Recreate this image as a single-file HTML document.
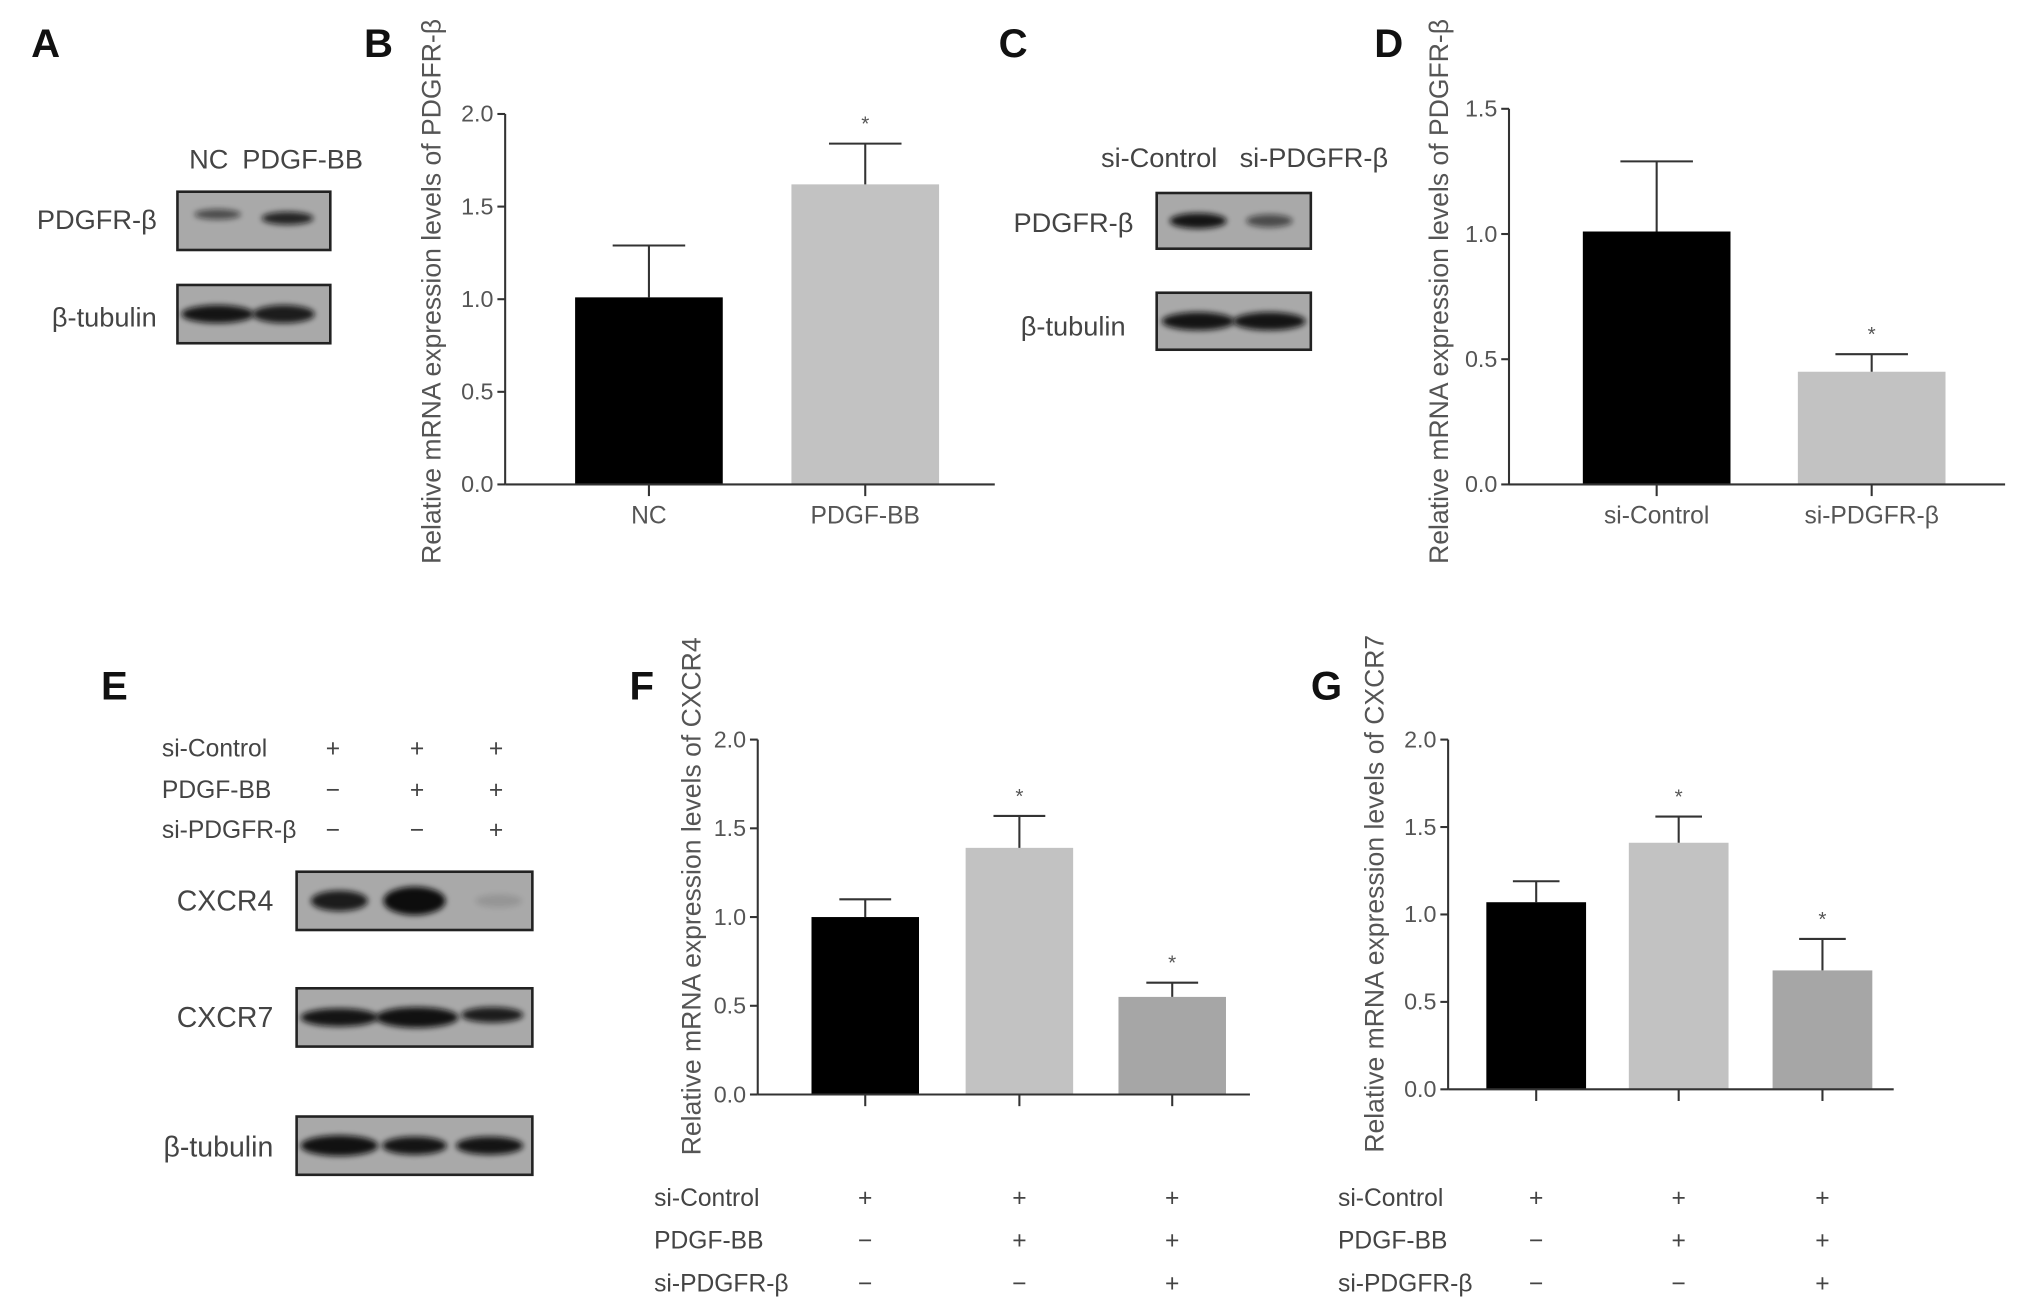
<!DOCTYPE html>
<html><head><meta charset="utf-8"><style>
html,body{margin:0;padding:0;background:#fff;}
svg{display:block;}
text{font-family:"Liberation Sans",sans-serif;fill:#444;}
.pl{font-weight:bold;font-size:31px;fill:#111;}
.tk{fill:#555;}
.lb{fill:#444;}
.ax{stroke:#333;stroke-width:1.6;fill:none;}
</style></head><body>
<svg id="fig" width="2031" height="1309" viewBox="0 0 1568 1010.6" preserveAspectRatio="none" xmlns="http://www.w3.org/2000/svg">
<defs><filter id="blur" x="-20%" y="-50%" width="140%" height="200%"><feGaussianBlur stdDeviation="2.2"/></filter></defs>
<g>
<text class="pl" x="24" y="44">A</text>
<text class="pl" x="281" y="44">B</text>
<text class="pl" x="771" y="44">C</text>
<text class="pl" x="1061" y="44">D</text>
<text class="pl" x="78" y="540">E</text>
<text class="pl" x="486" y="540">F</text>
<text class="pl" x="1012" y="540">G</text>
</g>
<g id="blots"></g>
<g id="charts"></g>
</svg>
<script>
// ---------- chart data ----------
const bCats = ["NC", "PDGF-BB"];
const bVals = [1.01, 1.62];
const bErr = [1.29, 1.84];
const bTicks = ["0.0", "0.5", "1.0", "1.5", "2.0"];

const dCats = ["si-Control", "si-PDGFR-β"];
const dVals = [1.01, 0.45];
const dErr = [1.29, 0.52];
const dTicks = ["0.0", "0.5", "1.0", "1.5"];

const fVals = [1.0, 1.39, 0.55];
const fErr = [1.10, 1.57, 0.63];
const fStar = [false, true, true];
const gVals = [1.07, 1.41, 0.68];
const gErr = [1.19, 1.56, 0.86];
const gStar = [false, true, true];
const fgTicks = ["0.0", "0.5", "1.0", "1.5", "2.0"];
const condRows = ["si-Control", "PDGF-BB", "si-PDGFR-β"];
const condMarks = [["+","+","+"],["−","+","+"],["−","−","+"]];

const NS = "http://www.w3.org/2000/svg";
function mk(tag, attrs, parent, txt){
  const e = document.createElementNS(NS, tag);
  for (const k in attrs) e.setAttribute(k, attrs[k]);
  if (txt !== undefined) e.textContent = txt;
  parent.appendChild(e);
  return e;
}
const fs = n => "font-size:" + n + "px";
const charts = document.getElementById("charts");

function barChart(o){
  const g = mk("g", {}, charts);
  
  
  const y = v => o.y0 - (v / o.max) * (o.y0 - o.yTop);
  o.vals.forEach((v, i) => {
    const cx = o.cx[i];
    const r = mk("rect", {x: cx - o.bw/2, y: y(v), width: o.bw, height: o.y0 - y(v), fill: o.colors[i]}, g);
    
    
    const e = mk("path", {d: `M${cx} ${y(v)}V${y(o.err[i])}M${cx-o.cap} ${y(o.err[i])}H${cx+o.cap}`, class: "ax", "stroke-width": 2}, g);
    
    
    if (o.star[i]) {
      const s = mk("text", {x: cx, y: y(o.err[i]) - 10, "text-anchor": "middle", class: "tk", style: fs(16)}, g, "*");
      
      
    }
    mk("line", {x1: cx, x2: cx, y1: o.y0, y2: o.y0 + 9, class: "ax"}, g);
    if (o.labels) {
      const t = mk("text", {x: cx, y: o.y0 + 30, "text-anchor": "middle", class: "tk", style: fs(19)}, g, o.labels[i]);
      
      
    }
  });
  const ya = mk("line", {x1: o.x0, x2: o.x0, y1: o.yTop, y2: o.y0, class: "ax"}, g);
  
  
  const xa = mk("line", {x1: o.x0, x2: o.xEnd, y1: o.y0, y2: o.y0, class: "ax", "stroke-width": 2}, g);
  
  
  o.ticks.forEach(t => {
    const v = parseFloat(t);
    mk("line", {x1: o.x0 - 6, x2: o.x0, y1: y(v), y2: y(v), class: "ax"}, g);
    const tl = mk("text", {x: o.x0 - 9, y: y(v) + 6, "text-anchor": "end", class: "tk", style: fs(18)}, g, t);
    
    
  });
  const tt = mk("text", {x: 0, y: 0, "text-anchor": "middle", class: "tk", style: fs(o.titleSize),
    transform: `translate(${o.titleX},${o.titleY}) rotate(-90)`}, g, o.title);
  
  
  if (o.rowsX !== undefined) {
    condRows.forEach((r, ri) => {
      const ry = o.rowsY[ri];
      const rl = mk("text", {x: o.rowsX, y: ry + 7, class: "lb", style: fs(19)}, g, r);
      
      
      condMarks[ri].forEach((m, mi) => {
        const mt = mk("text", {x: o.cx[mi], y: ry + 7, "text-anchor": "middle", class: "lb", style: fs(19)}, g, m);
        
        
      });
    });
  }
}

barChart({name: "chart-b", x0: 390, xEnd: 768, y0: 374, yTop: 88, max: 2.0, cx: [501, 668], bw: 114, cap: 28,
  vals: bVals, err: bErr, star: [false, true], labels: bCats, ticks: bTicks, colors: ["#000", "#c2c2c2"],
  title: "Relative mRNA expression levels of PDGFR-β", titleX: 340, titleY: 225, titleSize: 20.5});
barChart({name: "chart-d", x0: 1165, xEnd: 1548, y0: 374, yTop: 84, max: 1.5, cx: [1279, 1445], bw: 114, cap: 28,
  vals: dVals, err: dErr, star: [false, true], labels: dCats, ticks: dTicks, colors: ["#000", "#c2c2c2"],
  title: "Relative mRNA expression levels of PDGFR-β", titleX: 1118, titleY: 225, titleSize: 20.5});
barChart({name: "chart-f", x0: 585, xEnd: 965, y0: 845, yTop: 571, max: 2.0, cx: [668, 787, 905], bw: 83, cap: 20,
  vals: fVals, err: fErr, star: fStar, ticks: fgTicks, colors: ["#000", "#c2c2c2", "#a6a6a6"],
  title: "Relative mRNA expression levels of CXCR4", titleX: 541, titleY: 692, titleSize: 20.5,
  rowsX: 505, rowsY: [924, 957, 990]});
barChart({name: "chart-g", x0: 1118, xEnd: 1462, y0: 841, yTop: 571, max: 2.0, cx: [1186, 1296, 1407], bw: 77, cap: 18,
  vals: gVals, err: gErr, star: gStar, ticks: fgTicks, colors: ["#000", "#c2c2c2", "#a6a6a6"],
  title: "Relative mRNA expression levels of CXCR7", titleX: 1068, titleY: 690, titleSize: 20.5,
  rowsX: 1033, rowsY: [924, 957, 990]});

// ---------- western blots ----------
const blots = document.getElementById("blots");
function blot(name, x, y, w, h, bands){
  const g = mk("g", {}, blots);
  
  
  mk("rect", {x, y, width: w, height: h, fill: "#a9a9a9", stroke: "#222", "stroke-width": 2}, g);
  bands.forEach(b => mk("ellipse", {cx: b[0], cy: y + h/2 + (b[4]||0), rx: b[1], ry: b[2], fill: "#111", opacity: b[3], filter: "url(#blur)"}, g));
}
function label(t, x, y, anchor, size, name){
  const e = mk("text", {x, y, "text-anchor": anchor, class: "lb", style: fs(size)}, blots, t);
  
  
}
label("NC", 146, 130, "start", 21, "lane-label-nc");
label("PDGF-BB", 187, 130, "start", 21, "lane-label-pdgf-bb");
label("PDGFR-β", 121, 177, "end", 21, "row-label-pdgfr");
label("β-tubulin", 121, 252, "end", 21, "row-label-tubulin");
blot("blot-a-pdgfr", 137, 148, 118, 45, [[168,18,4,0.6,-5],[222,20,5,0.85,-2]]);
blot("blot-a-tubulin", 137, 220, 118, 45, [[168,28,7,0.95],[219,24,7,0.9]]);
label("si-Control", 850, 129, "start", 21, "lane-label-si-control");
label("si-PDGFR-β", 957, 129, "start", 21, "lane-label-si-pdgfr");
label("PDGFR-β", 875, 179, "end", 21, "row-label-pdgfr-c");
label("β-tubulin", 869, 259, "end", 21, "row-label-tubulin-c");
blot("blot-c-pdgfr", 893, 149, 119, 43, [[925,22,6,0.95],[980,18,5,0.6]]);
blot("blot-c-tubulin", 893, 226, 119, 44, [[925,28,7,0.95],[980,28,7,0.95]]);
const eRows = ["si-Control", "PDGF-BB", "si-PDGFR-β"];
const eMarks = [["+","+","+"],["−","+","+"],["−","−","+"]];
const eY = [577, 609, 640];
eRows.forEach((r, i) => {
  label(r, 125, eY[i] + 7, "start", 19, "e-condition-label");
  eMarks[i].forEach((m, j) => label(m, [257, 322, 383][j], eY[i] + 7, "middle", 19, "e-condition-mark"));
});
label("CXCR4", 211, 703, "end", 22, "row-label-cxcr4");
label("CXCR7", 211, 793, "end", 22, "row-label-cxcr7");
label("β-tubulin", 211, 893, "end", 22, "row-label-tubulin-e");
blot("blot-e-cxcr4", 229, 673, 182, 45, [[262,22,8,0.9],[320,24,11,1],[385,18,5,0.12]]);
blot("blot-e-cxcr7", 229, 763, 182, 45, [[262,30,7,0.95],[322,32,8,0.97],[380,24,6,0.9,-2]]);
blot("blot-e-tubulin", 229, 862, 182, 45, [[262,30,8,0.97],[320,25,7,0.95],[378,26,7,0.95]]);
</script>
</body></html>
